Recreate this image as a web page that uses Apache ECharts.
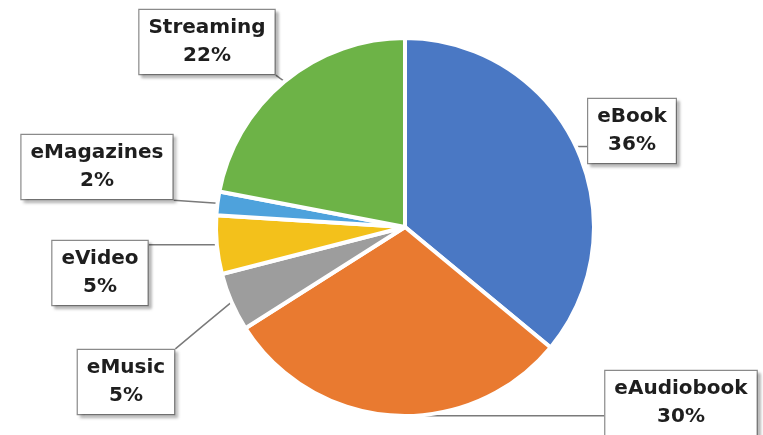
<!DOCTYPE html>
<html>
<head>
<meta charset="utf-8">
<script src="https://cdn.jsdelivr.net/npm/echarts@6/dist/echarts.min.js"></script>
<style>
  html, body { margin: 0; padding: 0; background: #fff; }
  #chart { width: 763px; height: 435px; }
</style>
</head>
<body>
<div id="chart"></div>
<script>
// Digital media revenue share by format
const categories = ['eBook', 'eAudiobook', 'eMusic', 'eVideo', 'eMagazines', 'Streaming'];
const shares = [36, 30, 5, 5, 2, 22];
const colors = ['#4a78c4', '#e97a30', '#9d9d9d', '#f3c11b', '#4ea2dc', '#6db347'];

// where each callout box sits (box centre, px)
const calloutPos = [
  [632, 131],
  [681, 403],
  [126, 382],
  [100, 273],
  [97, 167],
  [207, 42]
];

// nearest point of a rectangle to a given point
function nearestOnRect(px, py, r) {
  const x = Math.min(Math.max(px, r.x), r.x + r.width);
  const y = Math.min(Math.max(py, r.y), r.y + r.height);
  return [x, y];
}

const chart = echarts.init(document.getElementById('chart'));
chart.setOption({
  animation: false,
  series: [{
    type: 'pie',
    center: [405, 227],
    radius: 189,
    startAngle: 90,
    clockwise: true,
    data: categories.map((name, i) => ({
      name: name,
      value: shares[i],
      itemStyle: { color: colors[i] }
    })),
    itemStyle: { borderColor: '#ffffff', borderWidth: 4 },
    label: {
      show: true,
      position: 'outside',
      formatter: '{b}\n{c}%',
      fontFamily: 'DejaVu Sans',
      fontWeight: 'bold',
      fontSize: 20,
      lineHeight: 28,
      color: '#1e1e1e',
      align: 'center',
      backgroundColor: '#ffffff',
      borderColor: '#8a8a8a',
      borderWidth: 1.2,
      padding: [5, 9, 3, 9],
      shadowColor: 'rgba(0,0,0,0.22)',
      shadowBlur: 3,
      shadowOffsetX: 3,
      shadowOffsetY: 3
    },
    labelLine: {
      show: true,
      length: 10,
      length2: 10,
      lineStyle: { color: '#7a7a7a', width: 1.5 }
    },
    labelLayout: function (params) {
      const p = calloutPos[params.dataIndex];
      const w = params.labelRect.width;
      const h = params.labelRect.height;
      const box = { x: p[0] - w / 2, y: p[1] - h / 2, width: w, height: h };
      const start = params.labelLinePoints ? params.labelLinePoints[0] : [p[0], p[1]];
      const end = nearestOnRect(start[0], start[1], box);
      const mid = [(start[0] + end[0]) / 2, (start[1] + end[1]) / 2];
      return {
        x: p[0],
        y: p[1],
        align: 'center',
        verticalAlign: 'middle',
        labelLinePoints: [start, mid, end]
      };
    }
  }]
});
</script>
</body>
</html>
